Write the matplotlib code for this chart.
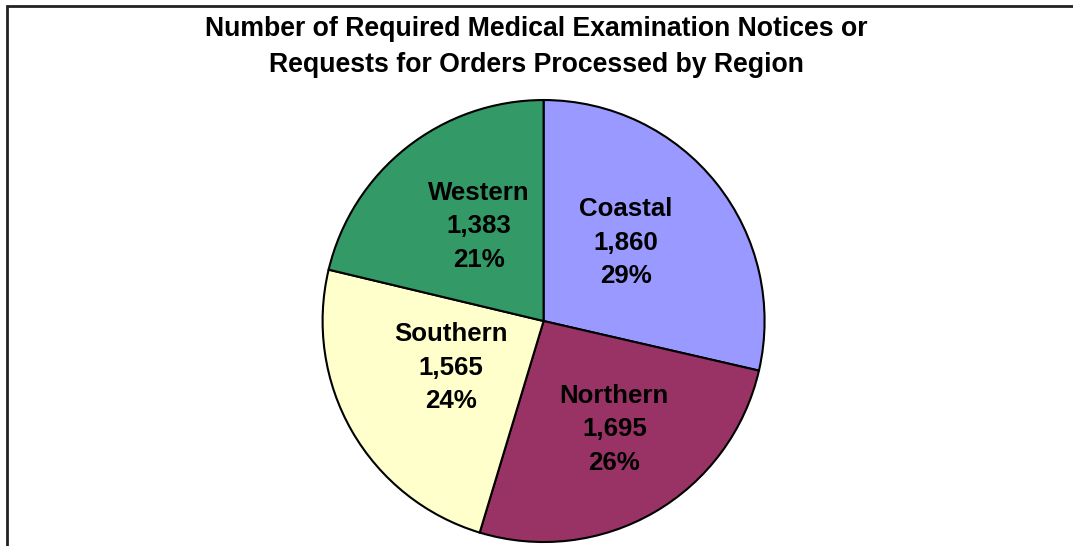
import numpy as np
import matplotlib.pyplot as plt
from matplotlib.patches import Rectangle

regions = ['Coastal', 'Northern', 'Southern', 'Western']
counts = [1860, 1695, 1565, 1383]
colors = ['#9999FF', '#993366', '#FFFFCC', '#339966']

plt.rcParams['font.family'] = ['Liberation Sans', 'DejaVu Sans']

fig = plt.figure(figsize=(10.73, 5.46), dpi=100)
ax = fig.add_axes([0.3006, 0.0073, 0.412, 0.8095])

wedges, _ = ax.pie(counts, colors=colors, startangle=90, counterclock=False,
                   wedgeprops=dict(edgecolor='black', linewidth=1.5))
ax.set_xlim(-1, 1); ax.set_ylim(-1, 1)
ax.set_aspect('equal')

total = sum(counts)
# label distance and angle nudge (deg) per wedge
dists = [0.515, 0.586, 0.47, 0.52]
nudges = [5, 3, -3, -4]
for w, name, n, d, a in zip(wedges, regions, counts, dists, nudges):
    mid = np.deg2rad((w.theta1 + w.theta2) / 2 + a)
    ax.text(d*np.cos(mid), d*np.sin(mid), f"{name}\n{n:,}\n{n/total:.0%}",
            ha='center', va='center', fontsize=18.6, fontweight='bold', linespacing=1.5)

fig.text(536/1073, 1 - 47/546,
         "Number of Required Medical Examination Notices or\nRequests for Orders Processed by Region",
         ha='center', va='center', fontsize=19.2, fontweight='bold', linespacing=1.55)

# chart frame (cropped at right and bottom)
fig.patches.append(Rectangle((7/1073, -0.1), 1.2, 1 - 6/546 + 0.1, transform=fig.transFigure,
                             fill=False, edgecolor='#222222', linewidth=2))

fig.savefig('out.png', dpi=100)
